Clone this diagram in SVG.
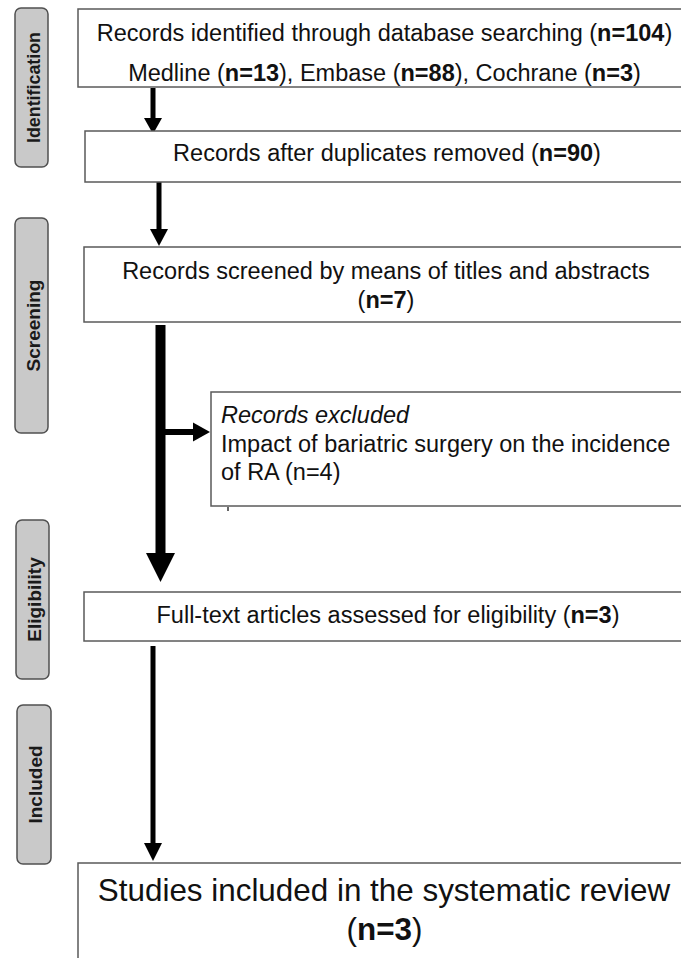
<svg xmlns="http://www.w3.org/2000/svg" width="681" height="958" viewBox="0 0 681 958">
<style>
.box{fill:#fff;stroke:#5a5a5a;stroke-width:1.5}
.tab{fill:#c9c9c9;stroke:#505050;stroke-width:1.5}
.tt{font-family:"Liberation Sans",Arial,sans-serif;font-weight:bold;font-size:19px;fill:#1a1a1a;text-anchor:middle}
.t{font-family:"Liberation Sans",Arial,sans-serif;font-size:23.5px;fill:#111}
.c{text-anchor:middle}
.b{font-weight:bold}
.big{font-size:31.4px}
.ar{fill:#000}
</style>
<rect width="681" height="958" fill="#fff"/>
<g id="tab-identification">
<rect class="tab" x="15" y="8" width="33" height="159" rx="6"/>
<text class="tt" x="40" y="87.5" transform="rotate(-90 40 87.5)" textLength="111" lengthAdjust="spacingAndGlyphs">Identification</text>
</g>
<g id="tab-screening">
<rect class="tab" x="15" y="218" width="33" height="215" rx="6"/>
<text class="tt" x="40" y="325.5" transform="rotate(-90 40 325.5)">Screening</text>
</g>
<g id="tab-eligibility">
<rect class="tab" x="16" y="520" width="33" height="159" rx="6"/>
<text class="tt" x="41" y="599.5" transform="rotate(-90 41 599.5)">Eligibility</text>
</g>
<g id="tab-included">
<rect class="tab" x="17" y="705" width="34" height="159" rx="6"/>
<text class="tt" x="42" y="784.5" transform="rotate(-90 42 784.5)">Included</text>
</g>
<g id="connectors">
<rect class="ar" x="150.5" y="88" width="5" height="31"/>
<polygon class="ar" points="144,118 162,118 153,134"/>
<rect class="ar" x="156.5" y="182" width="5" height="48"/>
<polygon class="ar" points="150,229 168,229 159,246"/>
<rect class="ar" x="155.5" y="325" width="10" height="229"/>
<polygon class="ar" points="146,553 175,553 160.5,582"/>
<rect class="ar" x="160" y="429" width="34" height="6"/>
<polygon class="ar" points="193,422.5 193,441.5 210,432"/>
<rect class="ar" x="150.5" y="646" width="5" height="198"/>
<polygon class="ar" points="144,843 162,843 153,861"/>
</g>
<g id="node-identified">
<rect class="box" x="78" y="9" width="620" height="78"/>
<text class="t c" x="384.5" y="41">Records identified through database searching (<tspan class="b">n=104</tspan>)</text>
<text class="t c" x="384.5" y="81">Medline (<tspan class="b">n=13</tspan>), Embase (<tspan class="b">n=88</tspan>), Cochrane (<tspan class="b">n=3</tspan>)</text>
</g>
<g id="node-duplicates">
<rect class="box" x="85" y="131" width="620" height="51"/>
<text class="t c" x="387" y="161">Records after duplicates removed (<tspan class="b">n=90</tspan>)</text>
</g>
<g id="node-screened">
<rect class="box" x="84" y="247" width="620" height="75"/>
<text class="t c" x="386" y="278.5">Records screened by means of titles and abstracts</text>
<text class="t c" x="386" y="308">(<tspan class="b">n=7</tspan>)</text>
</g>
<g id="node-excluded">
<rect class="box" x="211" y="392" width="490" height="114"/>
<text class="t" x="221" y="423" font-style="italic">Records excluded</text>
<text class="t" x="221" y="452">Impact of bariatric surgery on the incidence</text>
<text class="t" x="221" y="480">of RA (n=4)</text>
<line x1="228" y1="507" x2="228" y2="511" stroke="#333" stroke-width="1.5"/>
</g>
<g id="node-fulltext">
<rect class="box" x="84" y="592" width="620" height="49"/>
<text class="t c" x="388" y="623">Full-text articles assessed for eligibility (<tspan class="b">n=3</tspan>)</text>
</g>
<g id="node-included">
<rect class="box" x="78" y="863" width="620" height="110"/>
<text class="t c big" x="384" y="901">Studies included in the systematic review</text>
<text class="t c big" x="384.5" y="940">(<tspan class="b">n=3</tspan>)</text>
</g>
</svg>
